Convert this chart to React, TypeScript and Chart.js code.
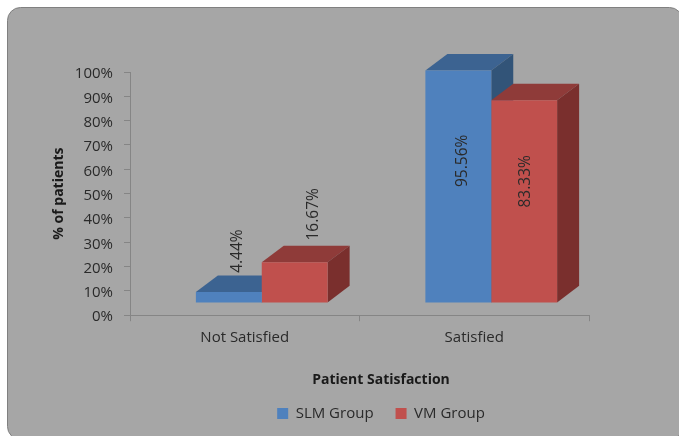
import React, { useEffect, useRef } from "react";
import { Chart, registerables } from "chart.js";

Chart.register(...registerables);

const categories = ["Not Satisfied", "Satisfied"];
const slmGroup = [4.44, 95.56];
const vmGroup = [16.67, 83.33];
const seriesNames = ["SLM Group", "VM Group"];
const yAxisTitle = "% of patients";
const xAxisTitle = "Patient Satisfaction";

const frontColors = ["#4f81bd", "#c0504d"];
const topColors = ["#3c6391", "#8f3b39"];
const sideColors = ["#325478", "#7a2f2d"];

const FONT = "'Open Sans', sans-serif";
const TEXT = "#2a2a2a";

// The bars stand in front of the axis plane; depth is how far their faces recede.
const FRONT_SHIFT = { x: 17, y: -12.3 };
const DEPTH = { x: 22, y: -16.6 };

// Value label centres relative to each bar's front face: [dx from bar centre, dy from anchor].
// Short bars anchor on their top edge, tall bars on their middle.
const labelOffsets = [
  [
    [9, -41],
    [4.6, -25.6],
  ],
  [
    [18.7, -48],
    [1, -20],
  ],
];

const polygon = (ctx: CanvasRenderingContext2D, points: number[][], color: string) => {
  ctx.beginPath();
  points.forEach(([x, y], i) => (i ? ctx.lineTo(x, y) : ctx.moveTo(x, y)));
  ctx.closePath();
  ctx.fillStyle = color;
  ctx.fill();
};

// Grey rounded panel behind everything.
const panelPlugin = {
  id: "panel",
  beforeDraw(chart: any) {
    const { ctx } = chart;
    ctx.save();
    ctx.fillStyle = "#ffffff";
    ctx.fillRect(0, 0, chart.width, chart.height);
    ctx.beginPath();
    ctx.roundRect(7.5, 7.5, 675, 432, 13);
    ctx.fillStyle = "#a6a6a6";
    ctx.fill();
    ctx.strokeStyle = "#808080";
    ctx.lineWidth = 1;
    ctx.stroke();
    ctx.restore();
  },
};

// Legend and title are centred under the bars rather than across the plot.
const placementPlugin = {
  id: "placement",
  afterLayout(chart: any) {
    const { legend, titleBlock } = chart;
    const shift = 61;
    legend.left += shift;
    legend.right += shift;
    titleBlock.left += shift;
    titleBlock.right += shift;
    const legendHeight = legend.bottom - legend.top;
    legend.top = 384;
    legend.bottom = 384 + legendHeight;
    const titleHeight = titleBlock.bottom - titleBlock.top;
    titleBlock.top = 380 - titleHeight / 2;
    titleBlock.bottom = 380 + titleHeight / 2;
  },
};

// Extruded faces of each bar, plus the shift that puts the fronts ahead of the axes.
const extrudePlugin = {
  id: "extrude",
  beforeDatasetsDraw(chart: any) {
    const { ctx } = chart;
    ctx.save();
    ctx.translate(FRONT_SHIFT.x, FRONT_SHIFT.y);
    chart.data.datasets.forEach((_: any, d: number) => {
      chart.getDatasetMeta(d).data.forEach((bar: any) => {
        const left = bar.x - bar.width / 2;
        const right = bar.x + bar.width / 2;
        const { y: top, base } = bar;
        polygon(
          ctx,
          [
            [left, top],
            [left + DEPTH.x, top + DEPTH.y],
            [right + DEPTH.x, top + DEPTH.y],
            [right, top],
          ],
          topColors[d],
        );
        polygon(
          ctx,
          [
            [right, top],
            [right + DEPTH.x, top + DEPTH.y],
            [right + DEPTH.x, base + DEPTH.y],
            [right, base],
          ],
          sideColors[d],
        );
      });
    });
  },
  afterDatasetsDraw(chart: any) {
    const { ctx } = chart;
    ctx.font = `15.5px ${FONT}`;
    ctx.fillStyle = TEXT;
    ctx.textAlign = "center";
    ctx.textBaseline = "middle";
    chart.data.datasets.forEach((ds: any, d: number) => {
      chart.getDatasetMeta(d).data.forEach((bar: any, i: number) => {
        const value = ds.data[i];
        const anchor = value > 50 ? (bar.y + bar.base) / 2 : bar.y;
        const [dx, dy] = labelOffsets[d][i];
        ctx.save();
        ctx.translate(bar.x + dx, anchor + dy);
        ctx.rotate(-Math.PI / 2);
        ctx.fillText(`${value.toFixed(2)}%`, 0, 0);
        ctx.restore();
      });
    });
    ctx.restore();
  },
};

export default function App() {
  const ref = useRef<HTMLCanvasElement>(null);

  useEffect(() => {
    document.body.style.margin = "0";
    const chart = new Chart(ref.current!, {
      type: "bar",
      data: {
        labels: categories,
        datasets: [
          {
            label: seriesNames[0],
            data: slmGroup,
            backgroundColor: frontColors[0],
            clip: false,
          },
          {
            label: seriesNames[1],
            data: vmGroup,
            backgroundColor: frontColors[1],
            clip: false,
          },
        ],
      },
      options: {
        animation: false,
        responsive: false,
        layout: { padding: { left: 51, right: 90, top: 72, bottom: 20 } },
        datasets: { bar: { categoryPercentage: 0.574, barPercentage: 1 } },
        scales: {
          x: {
            grid: {
              drawOnChartArea: false,
              color: "#858585",
              tickColor: "#858585",
              tickLength: 6,
            },
            border: { color: "#858585" },
            ticks: { color: TEXT, font: { family: FONT, size: 15 }, padding: 8, maxRotation: 0 },
            afterFit(scale: any) {
              scale.height = 37;
            },
          },
          y: {
            min: 0,
            max: 100,
            grid: {
              drawOnChartArea: false,
              color: "#858585",
              tickColor: "#858585",
              tickLength: 6,
            },
            border: { color: "#858585" },
            ticks: {
              stepSize: 10,
              color: TEXT,
              font: { family: FONT, size: 15 },
              padding: 11,
              labelOffset: 2,
              callback: (v: any) => `${v}%`,
            },
            title: {
              display: true,
              text: yAxisTitle,
              color: "#1a1a1a",
              font: { family: FONT, size: 14, weight: "bold" },
              padding: 0,
            },
            afterFit(scale: any) {
              scale.width = 79;
            },
          },
        },
        plugins: {
          title: {
            display: true,
            text: xAxisTitle,
            position: "bottom",
            color: "#1a1a1a",
            font: { family: FONT, size: 14, weight: "bold" },
            padding: 0,
          },
          legend: {
            position: "bottom",
            labels: {
              color: TEXT,
              font: { family: FONT, size: 15 },
              boxWidth: 11,
              boxHeight: 11,
              padding: 22,
            },
          },
          tooltip: { enabled: false },
        },
      },
      plugins: [panelPlugin, placementPlugin, extrudePlugin],
    } as any);
    return () => chart.destroy();
  }, []);

  return <canvas ref={ref} width={679} height={436} style={{ display: "block" }} />;
}
